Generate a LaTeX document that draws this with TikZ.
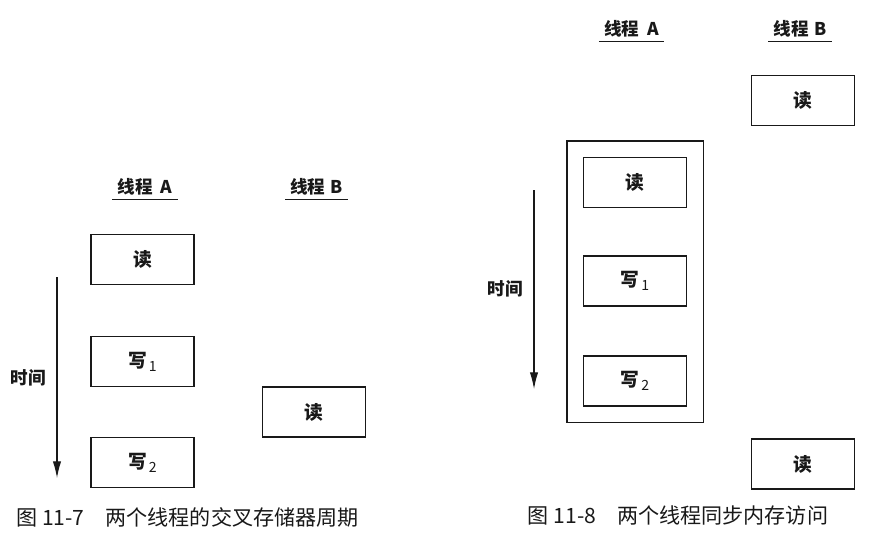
\documentclass[tikz,border=0pt]{standalone}
\usepackage{fontspec}
\setmainfont{Noto Sans CJK SC}
\usetikzlibrary{arrows.meta, positioning, calc, fit}
\definecolor{Ink}{RGB}{25, 25, 25}
\newcommand{\wsub}[1]{写\kern1.5pt\raisebox{-3.5pt}{\fontsize{12}{12}\selectfont\mdseries #1}}

\begin{document}
\begin{tikzpicture}[
        box/.style={draw=Ink, line width=1pt, minimum width=3.09cm, minimum height=1.5cm, font=\fontsize{16}{18}\selectfont\bfseries, text=Ink},
        hdr/.style={font=\fontsize{15}{17}\selectfont\bfseries, text=Ink, inner xsep=0.15cm, inner ysep=1pt},
        ul/.style={draw=Ink, line width=1.1pt},
        tm/.style={line width=0.9pt, draw=Ink, -{Latex[length=0.5cm, width=0.25cm]}},
        figcap/.style={font=\fontsize{18}{20}\selectfont, text=Ink}
    ]
        \useasboundingbox (0,0) rectangle (26.19,-15.96);

        % figure 11-7: interleaved cycles
        \node[hdr] (hdA1) at (4.35,-5.61) {线程\hspace{0.45em}A};
        \node[hdr] (hdB1) at (9.5,-5.61) {线程\hspace{0.3em}B};
        \draw[ul] ([yshift=-2pt]hdA1.south west) -- ([yshift=-2pt]hdA1.south east);
        \draw[ul] ([yshift=-2pt]hdB1.south west) -- ([yshift=-2pt]hdB1.south east);

        \node[box] (rdA1) at (4.275,-7.785) {读};
        \node[box] (wrA1) at (4.275,-10.845) {\wsub{1}};
        \node[box] (wrA2) at (4.275,-13.875) {\wsub{2}};
        \node[box] (rdB1) at (9.42,-12.36) {读};

        \coordinate (t1s) at (1.71,-8.31);
        \coordinate (t1e) at (1.71,-14.34);
        \draw[tm] (t1s) -- (t1e);
        \node[hdr] (tm1) at (0.84,-11.34) {时间};

        \node[figcap] (cap1) at (5.625,-15.51) {图 11-7\quad 两个线程的交叉存储器周期};

        % figure 11-8: synchronized access
        \node[hdr] (hdA2) at (18.945,-0.87) {线程\hspace{0.45em}A};
        \node[hdr] (hdB2) at (24.0,-0.87) {线程\hspace{0.3em}B};
        \draw[ul] ([yshift=-2pt]hdA2.south west) -- ([yshift=-2pt]hdA2.south east);
        \draw[ul] ([yshift=-2pt]hdB2.south west) -- ([yshift=-2pt]hdB2.south east);

        \node[box] (rdB2) at (24.09,-3.015) {读};
        \node[box] (rdA2) at (19.05,-5.475) {读};
        \node[box] (wrA3) at (19.05,-8.43) {\wsub{1}};
        \node[box] (wrA4) at (19.05,-11.43) {\wsub{2}};
        \node[draw=Ink, line width=1pt, inner sep=0.48cm, fit=(rdA2)(wrA4)] (lock) {};
        \node[box] (rdB3) at (24.09,-13.92) {读};

        \coordinate (t2s) at (16.02,-5.7);
        \coordinate (t2e) at (16.02,-11.67);
        \draw[tm] (t2s) -- (t2e);
        \node[hdr] (tm2) at (15.15,-8.67) {时间};

        \node[figcap] (cap2) at (20.34,-15.45) {图 11-8\quad 两个线程同步内存访问};
    \end{tikzpicture}
\end{document}
